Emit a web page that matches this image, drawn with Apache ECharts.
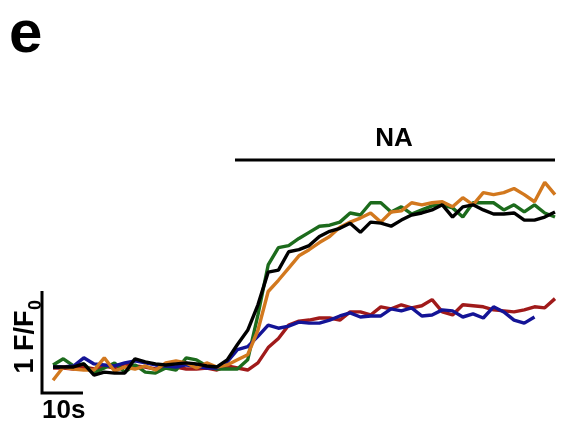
<!DOCTYPE html>
<html>
<head>
<meta charset="utf-8">
<script src="https://cdn.jsdelivr.net/npm/echarts@6/dist/echarts.min.js"></script>
<style>html,body{margin:0;padding:0;background:#fff}#c{width:567px;height:424px}</style>
</head>
<body>
<div id="c"></div>
<script>
// Sampling interval (s) and F/F0 traces (baseline-subtracted)
const frameInterval = 2.5;
const greenTrace = [0.03,0.09,0.02,0.04,-0.05,0,0.05,-0.04,0.03,-0.04,-0.05,0,-0.02,0.10,0.08,0.02,-0.01,-0.01,-0.01,0.08,0.52,1.01,1.18,1.20,1.27,1.33,1.39,1.40,1.43,1.52,1.50,1.62,1.62,1.53,1.58,1.51,1.55,1.59,1.60,1.57,1.48,1.62,1.62,1.62,1.55,1.60,1.53,1.60,1.52,1.48];
const blackTrace = [0.01,0.01,0.01,0.04,-0.07,-0.04,-0.05,-0.05,0.09,0.06,0.04,0.03,0.04,0.05,0.04,0.02,0.01,0.08,0.23,0.37,0.62,0.94,0.96,1.14,1.16,1.20,1.29,1.34,1.37,1.42,1.33,1.43,1.42,1.39,1.45,1.50,1.52,1.55,1.60,1.48,1.58,1.60,1.55,1.51,1.51,1.52,1.45,1.45,1.48,1.53];
const orangeTrace = [-0.12,0.01,-0.01,-0.02,-0.02,0.10,-0.03,0.01,-0.01,0.02,-0.02,0.05,0.07,0.05,0,0.05,0.01,0.03,0.08,0.13,0.37,0.75,0.86,0.98,1.10,1.16,1.23,1.29,1.38,1.43,1.47,1.52,1.43,1.53,1.54,1.62,1.60,1.62,1.63,1.58,1.67,1.60,1.72,1.70,1.72,1.76,1.70,1.63,1.82,1.70];
const blueTrace = [0.01,0.01,0.02,0.10,0.04,0.03,0.02,0.05,0.07,0.05,0.03,0.02,0.01,0.03,0.02,0,0,0.06,0.18,0.21,0.31,0.42,0.39,0.41,0.45,0.44,0.44,0.47,0.51,0.54,0.50,0.51,0.51,0.58,0.56,0.59,0.51,0.52,0.57,0.56,0.50,0.53,0.49,0.60,0.55,0.47,0.44,0.50];
const redTrace = [0,0,-0.01,0.01,-0.01,0.02,0,0.04,0.02,0.01,-0.01,0,0.01,-0.01,-0.01,0,-0.02,0.02,0,-0.02,0.05,0.20,0.29,0.42,0.46,0.47,0.49,0.49,0.47,0.55,0.55,0.52,0.60,0.58,0.62,0.59,0.61,0.67,0.55,0.52,0.62,0.61,0.60,0.57,0.56,0.55,0.57,0.60,0.59,0.68];
// Drug application bar (s) and its level
const naStart = 44.4;
const naEnd = 122.5;
const naLevel = 2.04;
const naLabel = 'NA';
// Scale bars
const scaleOrigin = [-2.7, -0.245];
const scaleTime = 10;
const scaleAmp = 1;
const scaleTimeLabel = '10s';
const scaleAmpLabel = '1 F/F';
const scaleAmpSub = '0';
const panelLabel = 'e';

const toXY = arr => arr.map((v, i) => [i * frameInterval, v]);
const FONT = '"Liberation Sans", Arial, sans-serif';

const chart = echarts.init(document.getElementById('c'), null, {renderer: 'canvas'});
const lineSeries = (name, data, color) => ({
  name, type: 'line', data: toXY(data), showSymbol: false, symbol: 'none',
  lineStyle: {color, width: 3.4}, itemStyle: {color}, clip: false, z: 2
});
const txt = (text, x, y, font, align, rotation) => ({
  type: 'text', x, y, rotation: rotation || 0,
  style: {text, font, fill: '#000', textAlign: align, textVerticalAlign: 'middle', align, verticalAlign: 'middle'}
});
chart.setOption({
  animation: false,
  backgroundColor: '#fff',
  grid: {left: 42, right: 12, top: 153.8, bottom: 25.4},
  xAxis: {type: 'value', min: -2.7, max: 122.5, show: false},
  yAxis: {type: 'value', min: -0.3, max: 2.1, show: false},
  series: [
    lineSeries('red', redTrace, '#a01a1a'),
    lineSeries('green', greenTrace, '#1c6b1c'),
    lineSeries('blue', blueTrace, '#141496'),
    lineSeries('orange', orangeTrace, '#d2781e'),
    lineSeries('black', blackTrace, '#000000'),
    {
      name: 'NA', type: 'line', data: [[naStart, naLevel], [naEnd, naLevel]],
      symbol: 'none', lineStyle: {color: '#000', width: 3}, clip: false
    },
    {
      name: 'scalebar', type: 'line', symbol: 'none', clip: false,
      data: [[scaleOrigin[0], scaleOrigin[1] + scaleAmp], scaleOrigin, [scaleOrigin[0] + scaleTime, scaleOrigin[1]]],
      lineStyle: {color: '#000', width: 3, join: 'miter'}
    }
  ],
  graphic: [
    txt(panelLabel, 9, 35, 'bold 60px ' + FONT, 'left'),
    txt(naLabel, 394, 139, 'bold 26px ' + FONT, 'center'),
    txt(scaleTimeLabel, 42, 411, 'bold 26px ' + FONT, 'left'),
    txt(scaleAmpLabel, 26, 342, 'bold 27px ' + FONT, 'center', Math.PI / 2),
    txt(scaleAmpSub, 36, 305, 'bold 18px ' + FONT, 'center', Math.PI / 2)
  ]
});
</script>
</body>
</html>
